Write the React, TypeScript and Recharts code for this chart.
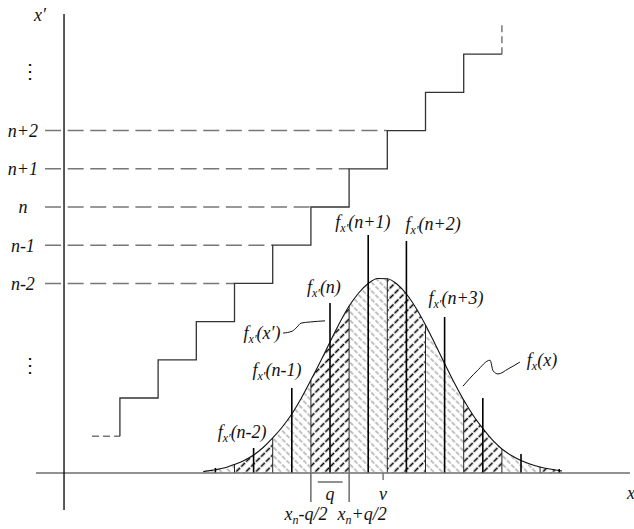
import React from 'react';
import {
  ComposedChart,
  XAxis,
  YAxis,
  Area,
  Line,
  ReferenceLine,
  ReferenceDot,
} from 'recharts';

// x is measured in quantization steps q, with x_n = 0; x' levels relative to n
const levelValues = [-2, -1, 0, 1, 2];
const levelNames = ['n-2', 'n-1', 'n', 'n+1', 'n+2'];
const stairLevels = [-5, -4, -3, -2, -1, 0, 1, 2, 3, 4];

// f_x(x), read every quarter step
const curveX = [
  -3.32, -3.25, -3, -2.75, -2.5, -2.25, -2, -1.75, -1.5, -1.25, -1, -0.75, -0.5,
  -0.25, 0, 0.25, 0.5, 0.75, 1, 1.25, 1.5, 1.75, 2, 2.25, 2.5, 2.75, 3, 3.25,
  3.5, 3.75, 4, 4.25, 4.5, 4.75, 5, 5.25, 5.5, 5.75, 6, 6.07,
];
const curveY = [
  0.0016, 0.0025, 0.0044, 0.0071, 0.0117, 0.0172, 0.0247, 0.035, 0.0481,
  0.0632, 0.0811, 0.1031, 0.1278, 0.1532, 0.18, 0.2062, 0.2295, 0.2474, 0.2604,
  0.2673, 0.267, 0.2598, 0.246, 0.2268, 0.2034, 0.1773, 0.1505, 0.1244, 0.1003,
  0.079, 0.0612, 0.0454, 0.033, 0.0241, 0.0172, 0.0121, 0.0082, 0.0055, 0.0034,
  0.0027,
];

// f_x'(k) impulses at the bin centres
const impulseK = [-3, -2, -1, 0, 1, 2, 3, 4, 5, 6];
const impulseY = [
  0.0069, 0.0344, 0.1168, 0.2336, 0.3271, 0.3189, 0.2144, 0.1031, 0.0261, 0.0055,
];

const meanV = 1.39;

// leader lines (x, x')
const leaderFxPrime = [
  { u: -1.23, L: -3.3 },
  { u: -0.99, L: -3.25 },
  { u: -0.86, L: -3.14 },
  { u: -0.76, L: -3.04 },
  { u: -0.52, L: -3.01 },
  { u: -0.13, L: -2.98 },
];
const leaderFx = [
  { u: 3.48, L: -4.69 },
  { u: 3.85, L: -4.29 },
  { u: 4.19, L: -4.01 },
  { u: 4.27, L: -4.29 },
  { u: 4.4, L: -4.37 },
  { u: 4.66, L: -4.24 },
  { u: 4.97, L: -4.06 },
];

const W = 634;
const H = 529;
const X_DOMAIN = [-8.639, 7.958];
const LV_DOMAIN = [-8.429, 5.419];
const PD_DOMAIN = [-0.077, 0.6501];
const AXIS_U = -6.963;
const BASE_LEFT = -7.696;
const BASE_RIGHT = 7.853;
const DASH_START = -7.46;
const EDGE_DEPTH = -0.0399;
const FONT = "'Times New Roman', 'Liberation Serif', Times, serif";

const rows = curveX.map((u, i) => ({ u, p: curveY[i] }));
const bins = [-3, -2, -1, 0, 1, 2, 3, 4, 5, 6];
const edges = [-2.5, -1.5, -0.5, 0.5, 1.5, 2.5, 3.5, 4.5, 5.5];

const stairs = [
  { u: stairLevels[0] - 0.5, L: stairLevels[0] - 1 },
  ...stairLevels.map((k) => ({ u: k - 0.5, L: k })),
  { u: stairLevels[stairLevels.length - 1] + 0.5, L: stairLevels[stairLevels.length - 1] },
];

type Lbl = { u: number; L: number; main: string; sub?: string; rest?: string; font?: string; size?: number };

const labels: Lbl[] = [
  { u: -7.59, L: 5.03, main: 'x′' },
  { u: -7.85, L: 3.56, main: '⋮', font: 'DejaVu Serif', size: 20 },
  { u: -7.85, L: -4.14, main: '⋮', font: 'DejaVu Serif', size: 20 },
  ...levelValues.map((v, i) => ({ u: -8.04, L: v, main: levelNames[i] })),
  { u: 0.86, L: -0.39, main: 'f', sub: 'x′', rest: '(n+1)' },
  { u: 2.7, L: -0.45, main: 'f', sub: 'x′', rest: '(n+2)' },
  { u: -0.16, L: -2.09, main: 'f', sub: 'x′', rest: '(n)' },
  { u: 3.3, L: -2.38, main: 'f', sub: 'x′', rest: '(n+3)' },
  { u: -1.78, L: -3.3, main: 'f', sub: 'x′', rest: '(x′)' },
  { u: -1.39, L: -4.27, main: 'f', sub: 'x′', rest: '(n-1)' },
  { u: -2.3, L: -5.89, main: 'f', sub: 'x′', rest: '(n-2)' },
  { u: 5.55, L: -4.01, main: 'f', sub: 'x', rest: '(x)' },
  { u: 0, L: -7.51, main: 'q' },
  { u: meanV, L: -7.51, main: 'v' },
  { u: -0.63, L: -8.04, main: 'x', sub: 'n', rest: '-q/2' },
  { u: 0.84, L: -8.04, main: 'x', sub: 'n', rest: '+q/2' },
  { u: 7.88, L: -7.49, main: 'x' },
];

function MathText({ x, y, l }: { x: number; y: number; l: Lbl }) {
  return (
    <text
      x={x}
      y={y}
      dy="0.35em"
      textAnchor="middle"
      style={{
        fontFamily: l.font ?? FONT,
        fontStyle: l.font ? 'normal' : 'italic',
        fontSize: l.size ?? 18,
      }}
      fill="#111"
    >
      {l.main}
      {l.sub && (
        <tspan dy={4} style={{ fontSize: 12 }}>
          {l.sub}
        </tspan>
      )}
      {l.rest && <tspan dy={l.sub ? -4 : 0}>{l.rest}</tspan>}
    </text>
  );
}

export default function App() {
  return (
    <div style={{ position: 'absolute', left: 0, top: 0, width: W, height: H, background: '#fff' }}>
      <ComposedChart width={W} height={H} data={rows} margin={{ top: 0, right: 0, bottom: 0, left: 0 }}>
        <defs>
          <pattern id="hatchDark" patternUnits="userSpaceOnUse" width="7" height="7" patternTransform="rotate(45)">
            <line x1="3.5" y1="0" x2="3.5" y2="7" stroke="#000" strokeWidth="1.6" strokeDasharray="5.5 1.5" />
          </pattern>
          <pattern id="hatchGrey" patternUnits="userSpaceOnUse" width="6" height="6" patternTransform="rotate(-45)">
            <line x1="3" y1="0" x2="3" y2="6" stroke="#8f8f8f" strokeWidth="1.1" strokeDasharray="4.5 1.5" />
          </pattern>
        </defs>
        <XAxis type="number" dataKey="u" domain={X_DOMAIN} allowDataOverflow hide />
        <YAxis yAxisId="lv" type="number" domain={LV_DOMAIN} allowDataOverflow hide />
        <YAxis yAxisId="pd" type="number" domain={PD_DOMAIN} allowDataOverflow hide orientation="right" />

        {bins.map((k) => (
          <Area
            key={`bin${k}`}
            yAxisId="pd"
            type="monotone"
            dataKey={(r: { u: number; p: number }) => (r.u >= k - 0.5 && r.u <= k + 0.5 ? r.p : null)}
            baseValue={0}
            stroke="none"
            fill={k % 2 === 0 ? 'url(#hatchDark)' : 'url(#hatchGrey)'}
            fillOpacity={1}
            activeDot={false}
            isAnimationActive={false}
          />
        ))}

        {edges.map((e) => {
          const top = curveY[curveX.indexOf(e)];
          const bottom = Math.abs(e) === 0.5 ? EDGE_DEPTH : 0;
          return (
            <ReferenceLine
              key={`edge${e}`}
              yAxisId="pd"
              segment={[{ x: e, y: bottom }, { x: e, y: top }]}
              stroke="#222"
              strokeWidth={1}
              ifOverflow="visible"
            />
          );
        })}

        <Line
          yAxisId="pd"
          type="monotone"
          dataKey="p"
          stroke="#111"
          strokeWidth={1.1}
          dot={false}
          activeDot={false}
          isAnimationActive={false}
        />

        {impulseK.map((k, i) => (
          <ReferenceLine
            key={`imp${k}`}
            yAxisId="pd"
            segment={[{ x: k, y: 0 }, { x: k, y: impulseY[i] }]}
            stroke="#000"
            strokeWidth={1.6}
            ifOverflow="visible"
          />
        ))}

        <ReferenceLine
          yAxisId="pd"
          segment={[{ x: BASE_LEFT, y: 0 }, { x: BASE_RIGHT, y: 0 }]}
          stroke="#6e6e6e"
          strokeWidth={1.6}
          ifOverflow="visible"
        />
        <ReferenceLine
          yAxisId="pd"
          segment={[{ x: meanV, y: 0 }, { x: meanV, y: -0.0096 }]}
          stroke="#777"
          strokeWidth={1.5}
          ifOverflow="visible"
        />
        <ReferenceLine
          yAxisId="pd"
          segment={[{ x: -0.32, y: -0.0124 }, { x: 0.33, y: -0.0124 }]}
          stroke="#222"
          strokeWidth={1}
          ifOverflow="visible"
        />
        <ReferenceLine
          yAxisId="lv"
          segment={[{ x: AXIS_U, y: 5.05 }, { x: AXIS_U, y: -7.93 }]}
          stroke="#000"
          strokeWidth={1.3}
          ifOverflow="visible"
        />

        {levelValues.map((v) => (
          <ReferenceLine
            key={`lvl${v}`}
            yAxisId="lv"
            segment={[{ x: DASH_START, y: v }, { x: v - 0.5, y: v }]}
            stroke="#777"
            strokeWidth={1.5}
            strokeDasharray="16 6.6"
            ifOverflow="visible"
          />
        ))}
        <ReferenceLine
          yAxisId="lv"
          segment={[{ x: -6.23, y: -6 }, { x: -5.5, y: -6 }]}
          stroke="#777"
          strokeWidth={1.5}
          strokeDasharray="7 4"
          ifOverflow="visible"
        />
        <ReferenceLine
          yAxisId="lv"
          segment={[{ x: 4.5, y: 4 }, { x: 4.5, y: 4.76 }]}
          stroke="#777"
          strokeWidth={1.5}
          strokeDasharray="7 4"
          ifOverflow="visible"
        />

        <Line
          yAxisId="lv"
          data={stairs}
          type="stepAfter"
          dataKey="L"
          stroke="#333"
          strokeWidth={1.3}
          dot={false}
          activeDot={false}
          isAnimationActive={false}
        />
        <Line
          yAxisId="lv"
          data={leaderFxPrime}
          type="monotone"
          dataKey="L"
          stroke="#111"
          strokeWidth={1}
          dot={false}
          activeDot={false}
          isAnimationActive={false}
        />
        <Line
          yAxisId="lv"
          data={leaderFx}
          type="monotone"
          dataKey="L"
          stroke="#111"
          strokeWidth={1}
          dot={false}
          activeDot={false}
          isAnimationActive={false}
        />

        {labels.map((l, i) => (
          <ReferenceDot
            key={`lbl${i}`}
            yAxisId="lv"
            x={l.u}
            y={l.L}
            r={0}
            ifOverflow="visible"
            shape={(p: any) => <MathText x={p.cx} y={p.cy} l={l} />}
          />
        ))}
      </ComposedChart>
    </div>
  );
}
